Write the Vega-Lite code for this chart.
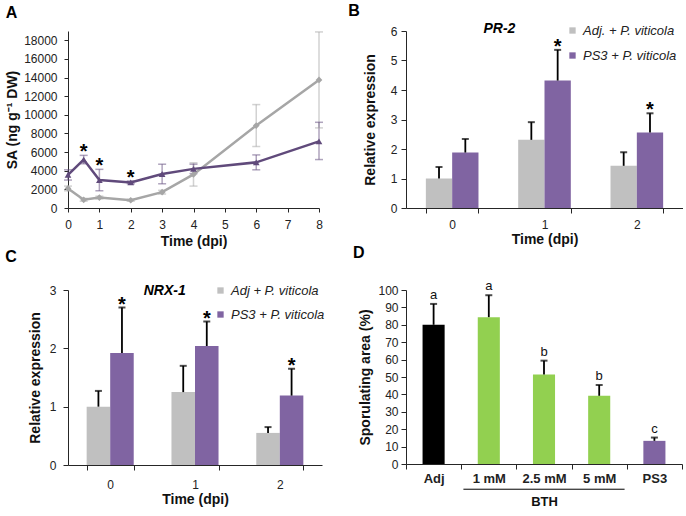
{
  "$schema": "https://vega.github.io/schema/vega-lite/v6.json",
  "padding": {"left": 5, "top": 3, "right": 0, "bottom": 0},
  "background": "white",
  "config": {
    "font": "Liberation Sans",
    "view": {"stroke": null},
    "axis": {"grid": false, "labelFont": "Liberation Sans", "labelFontSize": 12, "labelColor": "#222", "labelOverlap": false, "labelFlush": false, "titleFont": "Liberation Sans", "titleFontSize": 14, "titleFontWeight": "bold", "titleColor": "#111", "domainColor": "#262626", "tickColor": "#262626", "tickSize": 4, "labelAngle": 0},
    "title": {"font": "Liberation Sans", "fontSize": 16, "fontWeight": "bold", "anchor": "start", "frame": "bounds", "color": "#000"},
    "legend": {"labelFont": "Liberation Sans", "labelColor": "#222", "labelFontStyle": "italic"}
  },
  "columns": 2,
  "spacing": {"row": 82, "column": 61},
  "bounds": "flush",
  "align": "all",
  "resolve": {"scale": {"color": "independent", "xOffset": "independent", "shape": "independent", "stroke": "independent"}, "legend": {"color": "independent", "shape": "independent", "stroke": "independent"}},
  "concat": [
        {
          "width": 251, "height": 177,
          "title": {"text": "A", "offset": 10},
          "data": {"values": [
            {"series": "Adj + P. viticola", "t": 0, "v": 2100, "lo": 1850, "hi": 2350, "star": false},
            {"series": "Adj + P. viticola", "t": 0.5, "v": 880, "lo": 730, "hi": 1030, "star": false},
            {"series": "Adj + P. viticola", "t": 1, "v": 1120, "lo": 970, "hi": 1270, "star": false},
            {"series": "Adj + P. viticola", "t": 2, "v": 830, "lo": 730, "hi": 930, "star": false},
            {"series": "Adj + P. viticola", "t": 3, "v": 1700, "lo": 1500, "hi": 1900, "star": false},
            {"series": "Adj + P. viticola", "t": 4, "v": 3600, "lo": 2350, "hi": 4850, "star": false},
            {"series": "Adj + P. viticola", "t": 6, "v": 8850, "lo": 6600, "hi": 11100, "star": false},
            {"series": "Adj + P. viticola", "t": 8, "v": 13750, "lo": 8600, "hi": 18900, "star": false},
            {"series": "PS3 + P. viticola", "t": 0, "v": 3550, "lo": 3000, "hi": 4100, "star": false},
            {"series": "PS3 + P. viticola", "t": 0.5, "v": 5200, "lo": 4750, "hi": 5650, "star": true},
            {"series": "PS3 + P. viticola", "t": 1, "v": 3000, "lo": 1850, "hi": 4150, "star": true},
            {"series": "PS3 + P. viticola", "t": 2, "v": 2750, "lo": 2600, "hi": 2900, "star": true},
            {"series": "PS3 + P. viticola", "t": 3, "v": 3650, "lo": 2600, "hi": 4700, "star": false},
            {"series": "PS3 + P. viticola", "t": 4, "v": 4200, "lo": 3700, "hi": 4700, "star": false},
            {"series": "PS3 + P. viticola", "t": 6, "v": 4900, "lo": 4100, "hi": 5700, "star": false},
            {"series": "PS3 + P. viticola", "t": 8, "v": 7150, "lo": 5200, "hi": 9200, "star": false}
          ]},
          "encoding": {
            "x": {"field": "t", "type": "quantitative", "scale": {"domain": [0, 8], "nice": false}, "axis": {"values": [0,1,2,3,4,5,6,7,8], "title": "Time (dpi)", "labelPadding": 7, "titlePadding": 4, "tickSize": 4}}
          },
          "layer": [
            {"mark": {"type": "rule", "strokeWidth": 1.5, "opacity": 0.5},
             "encoding": {"y": {"field": "lo", "type": "quantitative", "scale": {"domain": [0, 19000], "nice": false}, "axis": {"values": [0,2000,4000,6000,8000,10000,12000,14000,16000,18000], "format": "d", "title": "SA (ng g⁻¹ DW)", "labelPadding": 7, "titlePadding": 4}}, "y2": {"field": "hi"},
              "color": {"field": "series", "type": "nominal", "scale": {"domain": ["Adj + P. viticola", "PS3 + P. viticola"], "range": ["#a6a6a6", "#604a7b"]}, "legend": null}}},
            {"mark": {"type": "tick", "orient": "horizontal", "thickness": 1.5, "size": 8, "opacity": 0.5},
             "encoding": {"y": {"field": "lo", "type": "quantitative", "axis": {"values": [0,2000,4000,6000,8000,10000,12000,14000,16000,18000], "format": "d", "title": "SA (ng g⁻¹ DW)", "labelPadding": 7, "titlePadding": 4}}, "color": {"field": "series", "type": "nominal", "legend": null}}},
            {"mark": {"type": "tick", "orient": "horizontal", "thickness": 1.5, "size": 8, "opacity": 0.5},
             "encoding": {"y": {"field": "hi", "type": "quantitative", "axis": {"values": [0,2000,4000,6000,8000,10000,12000,14000,16000,18000], "format": "d", "title": "SA (ng g⁻¹ DW)", "labelPadding": 7, "titlePadding": 4}}, "color": {"field": "series", "type": "nominal", "legend": null}}},
            {"mark": {"type": "line", "strokeWidth": 2.5},
             "encoding": {"y": {"field": "v", "type": "quantitative", "axis": {"values": [0,2000,4000,6000,8000,10000,12000,14000,16000,18000], "format": "d", "title": "SA (ng g⁻¹ DW)", "labelPadding": 7, "titlePadding": 4}}, "color": {"field": "series", "type": "nominal", "legend": null}}},
            {"transform": [{"filter": "datum.series == 'Adj + P. viticola'"}],
             "mark": {"type": "point", "shape": "diamond", "filled": true, "size": 45, "opacity": 1},
             "encoding": {"y": {"field": "v", "type": "quantitative", "axis": {"values": [0,2000,4000,6000,8000,10000,12000,14000,16000,18000], "format": "d", "title": "SA (ng g⁻¹ DW)", "labelPadding": 7, "titlePadding": 4}}, "color": {"field": "series", "type": "nominal", "legend": null}}},
            {"transform": [{"filter": "datum.series == 'PS3 + P. viticola'"}],
             "mark": {"type": "point", "shape": "triangle-up", "filled": true, "size": 45, "opacity": 1},
             "encoding": {"y": {"field": "v", "type": "quantitative", "axis": {"values": [0,2000,4000,6000,8000,10000,12000,14000,16000,18000], "format": "d", "title": "SA (ng g⁻¹ DW)", "labelPadding": 7, "titlePadding": 4}}, "color": {"field": "series", "type": "nominal", "legend": null}}},
            {"mark": {"type": "point", "filled": true, "opacity": 0},
             "encoding": {"y": {"field": "v", "type": "quantitative", "axis": {"values": [0,2000,4000,6000,8000,10000,12000,14000,16000,18000], "format": "d", "title": "SA (ng g⁻¹ DW)", "labelPadding": 7, "titlePadding": 4}},
              "color": {"field": "series", "type": "nominal", "legend": {"title": null, "orient": "none", "legendX": 32, "legendY": 4, "padding": 0, "symbolSize": 200, "symbolStrokeWidth": 2.5, "symbolOpacity": 1, "labelFontSize": 14, "labelOffset": 10, "rowPadding": 6}},
              "stroke": {"field": "series", "type": "nominal", "scale": {"domain": ["Adj + P. viticola", "PS3 + P. viticola"], "range": ["#a6a6a6", "#604a7b"]}, "legend": {"title": null, "orient": "none", "legendX": 32, "legendY": 4, "padding": 0, "symbolSize": 200, "symbolStrokeWidth": 2.5, "symbolOpacity": 1, "labelFontSize": 14, "labelOffset": 10, "rowPadding": 6}},
              "shape": {"field": "series", "type": "nominal", "scale": {"domain": ["Adj + P. viticola", "PS3 + P. viticola"], "range": ["M-1.9,0H1.9M0,-0.45L0.45,0L0,0.45L-0.45,0Z", "M-1.9,0H1.9M0,-0.5L0.5,0.35L-0.5,0.35Z"]}, "legend": {"title": null, "orient": "none", "legendX": 32, "legendY": 4, "padding": 0, "symbolSize": 200, "symbolStrokeWidth": 2.5, "symbolOpacity": 1, "labelFontSize": 14, "labelOffset": 10, "rowPadding": 6}}}},
            {"transform": [{"filter": "datum.star"}],
             "mark": {"type": "text", "text": "*", "fontSize": 20, "fontWeight": "bold", "baseline": "alphabetic", "dy": 3, "color": "#000"},
             "encoding": {"y": {"field": "hi", "type": "quantitative", "axis": {"values": [0,2000,4000,6000,8000,10000,12000,14000,16000,18000], "format": "d", "title": "SA (ng g⁻¹ DW)", "labelPadding": 7, "titlePadding": 4}}}}
          ]
        },
        {
          "width": 277, "height": 177,
          "title": {"text": "B", "offset": 3, "dx": -15},
          "layer": [
            {
              "data": {"values": [
                {"t": "0", "series": "Adj. + P. viticola", "v": 1.0, "hi": 1.39, "star": false},
                {"t": "0", "series": "PS3 + P. viticola", "v": 1.88, "hi": 2.34, "star": false},
                {"t": "1", "series": "Adj. + P. viticola", "v": 2.31, "hi": 2.91, "star": false},
                {"t": "1", "series": "PS3 + P. viticola", "v": 4.32, "hi": 5.36, "star": true},
                {"t": "2", "series": "Adj. + P. viticola", "v": 1.43, "hi": 1.89, "star": false},
                {"t": "2", "series": "PS3 + P. viticola", "v": 2.56, "hi": 3.21, "star": true}
              ]},
              "encoding": {
                "x": {"field": "t", "type": "nominal", "scale": {"domain": ["0", "1", "2"], "paddingInner": 0.43, "paddingOuter": 0.215}, "axis": {"title": "Time (dpi)", "tickBand": "extent", "tickSize": 5, "labelPadding": 6, "titlePadding": 2}},
                "xOffset": {"field": "series", "type": "nominal", "scale": {"domain": ["Adj. + P. viticola", "PS3 + P. viticola"], "paddingInner": 0, "paddingOuter": 0}}
              },
              "layer": [
                {"mark": {"type": "bar"},
                 "encoding": {"y": {"field": "v", "type": "quantitative", "scale": {"domain": [0, 6], "nice": false}, "axis": {"values": [0,1,2,3,4,5,6], "format": "d", "title": "Relative expression", "tickSize": 5, "labelPadding": 4, "titlePadding": 13}},
                  "color": {"field": "series", "type": "nominal", "scale": {"domain": ["Adj. + P. viticola", "PS3 + P. viticola"], "range": ["#c0c0c0", "#8064a2"]}, "legend": {"title": null, "orient": "none", "legendX": 160, "legendY": -7, "padding": 0, "symbolType": "square", "symbolSize": 40, "symbolStrokeWidth": 0, "labelFontSize": 13, "labelOffset": 4, "rowPadding": 11}}}},
                {"mark": {"type": "rule", "strokeWidth": 1.8, "color": "#000"},
                 "encoding": {"y": {"field": "v", "type": "quantitative", "axis": {"values": [0,1,2,3,4,5,6], "format": "d", "title": "Relative expression", "tickSize": 5, "labelPadding": 4, "titlePadding": 13}}, "y2": {"field": "hi"}}},
                {"mark": {"type": "tick", "thickness": 2, "size": 7, "color": "#000"},
                 "encoding": {"y": {"field": "hi", "type": "quantitative", "axis": {"values": [0,1,2,3,4,5,6], "format": "d", "title": "Relative expression", "tickSize": 5, "labelPadding": 4, "titlePadding": 13}}}},
                {"transform": [{"filter": "datum.star"}],
                 "mark": {"type": "text", "text": "*", "fontSize": 20, "fontWeight": "bold", "baseline": "alphabetic", "dy": 3, "color": "#000"},
                 "encoding": {"y": {"field": "hi", "type": "quantitative", "axis": {"values": [0,1,2,3,4,5,6], "format": "d", "title": "Relative expression", "tickSize": 5, "labelPadding": 4, "titlePadding": 13}}}}
              ]
            },
            {
              "data": {"values": [{"t": "0", "label": "PR-2"}]},
              "mark": {"type": "text", "fontSize": 14, "fontWeight": "bold", "fontStyle": "italic", "align": "left", "baseline": "middle", "dx": 5, "dy": -2, "color": "#000"},
              "encoding": {"x": {"field": "t", "type": "nominal", "bandPosition": 1}, "y": {"datum": 6, "type": "quantitative", "axis": {"values": [0,1,2,3,4,5,6], "format": "d", "title": "Relative expression", "tickSize": 5, "labelPadding": 4, "titlePadding": 13}}, "text": {"field": "label"}}
            }
          ]
        },
        {
          "width": 254, "height": 175,
          "title": {"text": "C", "offset": 19, "dx": -23},
          "layer": [
            {
              "data": {"values": [
                {"t": "0", "series": "Adj + P. viticola", "v": 1.0, "hi": 1.27, "star": false},
                {"t": "0", "series": "PS3 + P. viticola", "v": 1.92, "hi": 2.70, "star": true},
                {"t": "1", "series": "Adj + P. viticola", "v": 1.25, "hi": 1.70, "star": false},
                {"t": "1", "series": "PS3 + P. viticola", "v": 2.04, "hi": 2.46, "star": true},
                {"t": "2", "series": "Adj + P. viticola", "v": 0.55, "hi": 0.65, "star": false},
                {"t": "2", "series": "PS3 + P. viticola", "v": 1.19, "hi": 1.65, "star": true}
              ]},
              "encoding": {
                "x": {"field": "t", "type": "nominal", "scale": {"domain": ["0", "1", "2"], "paddingInner": 0.445, "paddingOuter": 0.22}, "axis": {"title": "Time (dpi)", "tickBand": "extent", "tickSize": 5, "labelPadding": 9, "titlePadding": 2}},
                "xOffset": {"field": "series", "type": "nominal", "scale": {"domain": ["Adj + P. viticola", "PS3 + P. viticola"], "paddingInner": 0, "paddingOuter": 0}}
              },
              "layer": [
                {"mark": {"type": "bar"},
                 "encoding": {"y": {"field": "v", "type": "quantitative", "scale": {"domain": [0, 3], "nice": false}, "axis": {"values": [0,1,2,3], "format": "d", "title": "Relative expression", "tickSize": 5, "labelPadding": 7, "titlePadding": 7}},
                  "color": {"field": "series", "type": "nominal", "scale": {"domain": ["Adj + P. viticola", "PS3 + P. viticola"], "range": ["#c0c0c0", "#8064a2"]}, "legend": {"title": null, "orient": "none", "legendX": 146, "legendY": -6, "padding": 0, "symbolType": "square", "symbolSize": 40, "symbolStrokeWidth": 0, "labelFontSize": 13, "labelOffset": 4, "rowPadding": 10}}}},
                {"mark": {"type": "rule", "strokeWidth": 1.8, "color": "#000"},
                 "encoding": {"y": {"field": "v", "type": "quantitative", "axis": {"values": [0,1,2,3], "format": "d", "title": "Relative expression", "tickSize": 5, "labelPadding": 7, "titlePadding": 7}}, "y2": {"field": "hi"}}},
                {"mark": {"type": "tick", "thickness": 2, "size": 7, "color": "#000"},
                 "encoding": {"y": {"field": "hi", "type": "quantitative", "axis": {"values": [0,1,2,3], "format": "d", "title": "Relative expression", "tickSize": 5, "labelPadding": 7, "titlePadding": 7}}}},
                {"transform": [{"filter": "datum.star"}],
                 "mark": {"type": "text", "text": "*", "fontSize": 20, "fontWeight": "bold", "baseline": "alphabetic", "dy": 3, "color": "#000"},
                 "encoding": {"y": {"field": "hi", "type": "quantitative", "axis": {"values": [0,1,2,3], "format": "d", "title": "Relative expression", "tickSize": 5, "labelPadding": 7, "titlePadding": 7}}}}
              ]
            },
            {
              "data": {"values": [{"t": "0", "label": "NRX-1"}]},
              "mark": {"type": "text", "fontSize": 14, "fontWeight": "bold", "fontStyle": "italic", "align": "left", "baseline": "middle", "dx": 10, "dy": 1, "color": "#000"},
              "encoding": {"x": {"field": "t", "type": "nominal", "bandPosition": 1}, "y": {"datum": 3, "type": "quantitative", "axis": {"values": [0,1,2,3], "format": "d", "title": "Relative expression", "tickSize": 5, "labelPadding": 7, "titlePadding": 7}}, "text": {"field": "label"}}
            }
          ]
        },
        {
          "width": 276, "height": 174,
          "title": {"text": "D", "offset": 19, "dx": -6},
          "layer": [
            {
              "data": {"values": [
                {"trt": "Adj", "v": 80, "hi": 92, "grp": "a"},
                {"trt": "1 mM", "v": 84.4, "hi": 97, "grp": "a"},
                {"trt": "2.5 mM", "v": 51.5, "hi": 59.4, "grp": "b"},
                {"trt": "5 mM", "v": 39.2, "hi": 45.4, "grp": "b"},
                {"trt": "PS3", "v": 13.3, "hi": 15.2, "grp": "c"}
              ]},
              "encoding": {
                "x": {"field": "trt", "type": "nominal", "scale": {"domain": ["Adj", "1 mM", "2.5 mM", "5 mM", "PS3"], "paddingInner": 0, "paddingOuter": 0}, "axis": {"title": "BTH", "tickBand": "extent", "tickSize": 5, "labelPadding": 3, "labelFontWeight": "bold", "labelFontSize": 13, "titlePadding": 10, "titleFontSize": 13}}
              },
              "layer": [
                {"mark": {"type": "bar", "width": {"band": 0.4}},
                 "encoding": {"y": {"field": "v", "type": "quantitative", "scale": {"domain": [0, 100], "nice": false}, "axis": {"values": [0,10,20,30,40,50,60,70,80,90,100], "title": "Sporulating area (%)", "tickSize": 5, "labelPadding": 3, "titlePadding": 5}},
                  "color": {"field": "trt", "type": "nominal", "scale": {"domain": ["Adj", "1 mM", "2.5 mM", "5 mM", "PS3"], "range": ["#000000", "#92d050", "#92d050", "#92d050", "#8064a2"]}, "legend": null}}},
                {"mark": {"type": "rule", "strokeWidth": 1.8, "color": "#000"},
                 "encoding": {"y": {"field": "v", "type": "quantitative", "axis": {"values": [0,10,20,30,40,50,60,70,80,90,100], "title": "Sporulating area (%)", "tickSize": 5, "labelPadding": 3, "titlePadding": 5}}, "y2": {"field": "hi"}}},
                {"mark": {"type": "tick", "thickness": 2, "size": 7, "color": "#000"},
                 "encoding": {"y": {"field": "hi", "type": "quantitative", "axis": {"values": [0,10,20,30,40,50,60,70,80,90,100], "title": "Sporulating area (%)", "tickSize": 5, "labelPadding": 3, "titlePadding": 5}}}},
                {"mark": {"type": "text", "fontSize": 13, "baseline": "alphabetic", "dy": -5, "color": "#111"},
                 "encoding": {"y": {"field": "hi", "type": "quantitative", "axis": {"values": [0,10,20,30,40,50,60,70,80,90,100], "title": "Sporulating area (%)", "tickSize": 5, "labelPadding": 3, "titlePadding": 5}}, "text": {"field": "grp"}}}
              ]
            },
            {
              "data": {"values": [{"from": "1 mM", "to": "5 mM"}]},
              "mark": {"type": "rule", "strokeWidth": 1, "color": "#000", "clip": false},
              "encoding": {"x": {"field": "from", "type": "nominal", "bandPosition": 0.04}, "x2": {"field": "to", "bandPosition": 0.96}, "y": {"datum": -14.5, "type": "quantitative", "axis": {"values": [0,10,20,30,40,50,60,70,80,90,100], "title": "Sporulating area (%)", "tickSize": 5, "labelPadding": 3, "titlePadding": 5}}}
            }
          ]
        }
  ]
}
